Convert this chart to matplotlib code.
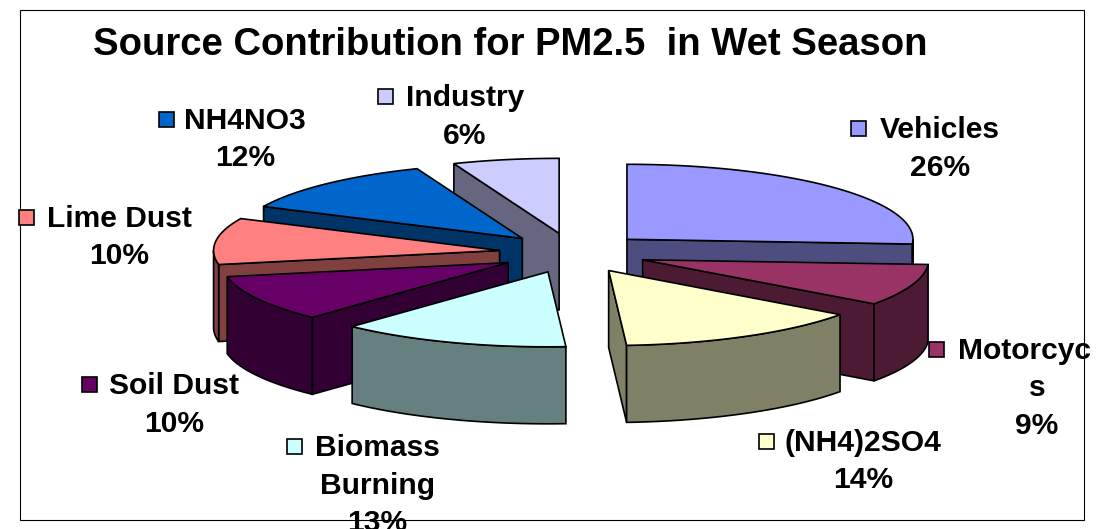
import numpy as np
import matplotlib
matplotlib.use('Agg')
import matplotlib.pyplot as plt
from matplotlib.colors import to_rgb
from matplotlib.patches import Polygon, Rectangle

plt.rcParams['font.family'] = ['Liberation Sans', 'DejaVu Sans']

names = ['Vehicles', 'Motorcycs', '(NH4)2SO4', 'Biomass Burning', 'Soil Dust', 'Lime Dust', 'NH4NO3', 'Industry']
values = [26, 9, 14, 13, 10, 10, 12, 6]
colors = ['#9999FF', '#993366', '#FFFFCC', '#CCFFFF', '#660066', '#FF8080', '#0066CC', '#CCCCFF']

# label layout, pixels: key left, first line centre y, text centre x per line
label_x = [[940, 940], [1024, 1037, 1037], [863, 863], [377, 377, 377], [174, 174], [119, 119], [245, 245], [465, 465]]
label_y = [128, 349, 441, 446, 384, 217, 119, 96]
label_lines = [['Vehicles', '26%'], ['Motorcyc', 's', '9%'], ['(NH4)2SO4', '14%'], ['Biomass', 'Burning', '13%'],
               ['Soil Dust', '10%'], ['Lime Dust', '10%'], ['NH4NO3', '12%'], ['Industry', '6%']]
key_x = [851, 929, 759, 287, 82, 19, 159, 378]

cx, cy = 573, 253
rx, ry = 286, 75
ex, ey = 74, 20
depth = 77
lw = 1.2

fig = plt.figure(figsize=(11.08, 5.29), dpi=100)
ax = fig.add_axes([0, 0, 1, 1])
ax.set_xlim(0, 1108)
ax.set_ylim(529, 0)
ax.axis('off')

ax.add_patch(Rectangle((20, 10), 1064, 510, fc='white', ec='black', lw=0.8, zorder=0))


def rim(x0, y0, deg):
    a = np.radians(deg)
    return x0 + rx * np.sin(a), y0 - ry * np.cos(a)


def shade(c):
    return tuple(v * 0.5 for v in to_rgb(c))


edges = np.cumsum([0] + values) * 3.6
slices = []
for i in range(len(values)):
    a, b = edges[i], edges[i + 1]
    mid = np.radians((a + b) / 2)
    slices.append((-np.cos(mid), i, a, b, cx + ex * np.sin(mid), cy - ey * np.cos(mid)))

z = 1
for _, i, a, b, x0, y0 in sorted(slices):
    dark = shade(colors[i])
    # cut faces that look toward the viewer
    for ang, normal in ((a, a - 90), (b, b + 90)):
        if np.cos(np.radians(normal)) < 0:
            xr, yr = rim(x0, y0, ang)
            pts = [(x0, y0), (xr, yr), (xr, yr + depth), (x0, y0 + depth)]
            ax.add_patch(Polygon(pts, fc=dark, ec='black', lw=lw, zorder=z))
            z += 1
    # outer wall, front half only
    lo, hi = max(a, 90), min(b, 270)
    if hi > lo:
        t = np.linspace(lo, hi, 80)
        xs, ys = rim(x0, y0, t)
        pts = np.r_[np.c_[xs, ys], np.c_[xs, ys + depth][::-1]]
        ax.add_patch(Polygon(pts, fc=dark, ec='black', lw=lw, zorder=z))
        z += 1
    # top
    t = np.linspace(a, b, 120)
    xs, ys = rim(x0, y0, t)
    pts = np.r_[[(x0, y0)], np.c_[xs, ys]]
    ax.add_patch(Polygon(pts, fc=colors[i], ec='black', lw=lw, zorder=z))
    z += 1

fs = 21.6
line_h = 37.5
z = 100
for i in range(len(names)):
    lines = label_lines[i]
    for k, s in enumerate(lines):
        ax.text(label_x[i][k], label_y[i] + 2 + k * line_h, s, fontsize=fs, fontweight='bold', ha='center',
                va='center', color='black', zorder=z)
    ax.add_patch(Rectangle((key_x[i], label_y[i] - 7), 15, 15, fc=colors[i], ec='black', lw=lw, zorder=z))

ax.text(510, 45, 'Source Contribution for PM2.5  in Wet Season', fontsize=27.5, fontweight='bold',
        ha='center', va='center', color='black', zorder=z)

fig.savefig('out.png', dpi=100)
